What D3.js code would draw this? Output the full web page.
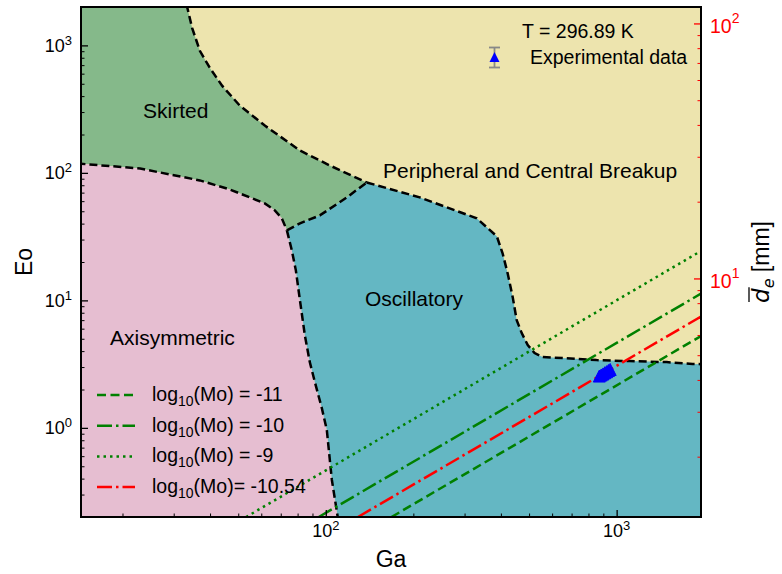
<!DOCTYPE html>
<html>
<head>
<meta charset="utf-8">
<script src="https://cdn.jsdelivr.net/npm/d3@7"></script>
<style>
    body { margin: 0; background: #fff; }
    text { font-family: "Liberation Sans", Arial, sans-serif; }
</style>
</head>
<body>
<div class="regime-map-container"></div>
<script>
// Data, points are [Ga, Eo]

const gaRange = [14.4, 1950]
const eoRange = [0.2, 2000]
const deRange = [1.16, 116]   // mm, right axis

const gaMajors = [100, 1000]
const eoMajors = [1, 10, 100, 1000]
const deMajors = [10, 100]

const skirtedAxisym = [[14, 118.5], [23.0, 108.2], [36.9, 87.3], [46.8, 74.1], [54.8, 64.2], [61.7, 57.6], [66.8, 50.8], [70.6, 44.0], [73.5, 35.4]]
const skirtedBreakup = [[33.2, 2100], [34.7, 1373], [36.9, 907], [39.9, 668], [44.0, 483], [50.6, 337], [61.7, 235], [81.5, 149.7], [103.2, 114.3], [138.3, 84.1]]
const skirtedOscill = [[73.5, 35.4], [81.5, 40.2], [95.4, 46.4], [118.1, 64.2], [138.3, 84.1]]
const oscillBreakup = [[138.3, 84.1], [210.4, 64.2], [330.5, 44.0], [387.3, 31.8], [405.4, 23.4], [421.9, 16.3], [439.2, 10.6], [453.3, 7.0], [471.7, 5.54], [494.7, 4.46], [522.4, 3.86], [556.8, 3.59], [651.9, 3.53], [853, 3.40], [1108, 3.34], [1486, 3.28], [1825, 3.17], [2100, 3.15]]
const axisymOscill = [[73.5, 35.4], [76.4, 24.7], [78.9, 17.2], [81.5, 10.0], [84.7, 5.34], [88.1, 3.28], [91.7, 2.29], [96.9, 1.43], [100.8, 0.965], [104.9, 0.392], [109.9, 0.2], [111, 0.18]]

const regionNames = ['Skirted', 'Axisymmetric', 'Oscillatory', 'Peripheral and Central Breakup']

// constant Morton number lines, two end points each
const moValues = ['-11', '-10', '-9', '-10.54']
const moLabelTails = ['(Mo) = -11', '(Mo) = -10', '(Mo) = -9', '(Mo)= -10.54']
const moLineEnds = [
    [[168.2, 0.2], [1950, 5.25]],
    [[94.6, 0.2], [1950, 11.3]],
    [[53.2, 0.2], [1950, 24.4]],
    [[129, 0.2], [1950, 7.47]]
]

const expGa = [872, 885, 898, 911, 924, 937, 950]
const expEo = [2.55, 2.60, 2.65, 2.71, 2.76, 2.82, 2.87]
const temperatureLabel = 'T = 296.89 K'

// Styles

const regionColors = ['#85b98a', '#e6bed1', '#64b7c3', '#ede4ae']
const moStyles = [
    {color: '#008000', dash: '9,4.5'},
    {color: '#008000', dash: '15,4,2.5,4'},
    {color: '#008000', dash: '2.5,4'},
    {color: '#ff0000', dash: '15,4,2.5,4'}
]

// Dimensions

let map_dimensions = {
    width: 782,
    height: 574,
    margin: {top: 7, bottom: 57, left: 81, right: 81}
}

const svg = d3.select('.regime-map-container')
    .append('svg')
    .attr('width', map_dimensions.width)
    .attr('height', map_dimensions.height)

const plotW = map_dimensions.width - map_dimensions.margin.left - map_dimensions.margin.right
const plotH = map_dimensions.height - map_dimensions.margin.top - map_dimensions.margin.bottom

const container = svg.append('g')
    .attr('transform', `translate(${map_dimensions.margin.left},${map_dimensions.margin.top})`)

const xScale = d3.scaleLog().domain(gaRange).range([0, plotW])
const yScale = d3.scaleLog().domain(eoRange).range([plotH, 0])
const dScale = d3.scaleLog().domain(deRange).range([plotH, 0])

svg.append('defs').append('clipPath').attr('id', 'plot-clip')
    .append('rect').attr('width', plotW).attr('height', plotH)

const plot = container.append('g').attr('clip-path', 'url(#plot-clip)')

const line = d3.line().x(d => xScale(d[0])).y(d => yScale(d[1]))

// Regions
const skirtedPoly = skirtedAxisym
    .concat(skirtedOscill.slice(1))
    .concat(skirtedBreakup.slice().reverse().slice(1))
    .concat([[14, 2100]])
const axisymPoly = skirtedAxisym
    .concat(axisymOscill.slice(1))
    .concat([[14, 0.18]])
const oscillPoly = skirtedOscill
    .concat(oscillBreakup.slice(1))
    .concat([[2100, 0.18]])
    .concat(axisymOscill.slice().reverse())

plot.append('rect')
    .attr('width', plotW).attr('height', plotH)
    .attr('fill', regionColors[3])

plot.selectAll('.region')
    .data([skirtedPoly, axisymPoly, oscillPoly])
    .join('path')
    .attr('class', 'region')
    .attr('d', d => line(d) + 'Z')
    .attr('fill', (d, i) => regionColors[i])

plot.selectAll('.boundary')
    .data([skirtedAxisym, skirtedBreakup, skirtedOscill, oscillBreakup, axisymOscill])
    .join('path')
    .attr('class', 'boundary')
    .attr('d', line)
    .attr('fill', 'none')
    .attr('stroke', '#000')
    .attr('stroke-width', 2.5)
    .attr('stroke-dasharray', '8,4')

// Mo lines
plot.selectAll('.mo-line')
    .data(moLineEnds)
    .join('path')
    .attr('class', 'mo-line')
    .attr('d', line)
    .attr('fill', 'none')
    .attr('stroke', (d, i) => moStyles[i].color)
    .attr('stroke-width', 2.5)
    .attr('stroke-dasharray', (d, i) => moStyles[i].dash)

// experimental points
const tri = s => `M0,${-s / 2}L${s / 2},${s / 2}L${-s / 2},${s / 2}Z`
plot.selectAll('.exp')
    .data(expGa)
    .join('path')
    .attr('class', 'exp')
    .attr('transform', (d, i) => `translate(${xScale(d)},${yScale(expEo[i])})`)
    .attr('d', tri(12))
    .attr('fill', '#0000ff')
    .attr('stroke', '#0000ff')
    .attr('stroke-width', 1)

// Region labels
const regionLabelPos = [[62, 111], [29, 338], [284, 299], [302, 171]]
container.selectAll('.region-label')
    .data(regionNames)
    .join('text')
    .attr('class', 'region-label')
    .attr('x', (d, i) => regionLabelPos[i][0])
    .attr('y', (d, i) => regionLabelPos[i][1])
    .attr('font-size', '21px')
    .text(d => d)

// Ticks
function drawTicks(scale, axisFn, transform, majors, color) {
    const minors = scale.ticks().filter(v => !majors.includes(v))
    container.append('g')
        .attr('transform', transform)
        .call(axisFn(scale).tickValues(minors).tickSize(-3.5).tickFormat(''))
        .call(g => g.select('.domain').remove())
        .selectAll('line').attr('stroke', color).attr('stroke-width', 1)
    container.append('g')
        .attr('transform', transform)
        .call(axisFn(scale).tickValues(majors).tickSize(-7).tickFormat(''))
        .call(g => g.select('.domain').remove())
        .selectAll('line').attr('stroke', color).attr('stroke-width', 1.3)
}

drawTicks(xScale, d3.axisBottom, `translate(0,${plotH})`, gaMajors, '#000')
drawTicks(yScale, d3.axisLeft, 'translate(0,0)', eoMajors, '#000')
drawTicks(dScale, d3.axisRight, `translate(${plotW},0)`, deMajors, '#ff0000')

function powLabel(sel, supSize, supDy) {
    sel.append('tspan').text('10')
    sel.append('tspan').attr('dy', supDy).attr('font-size', supSize).text(d => Math.round(Math.log10(d)))
}

container.selectAll('.x-label')
    .data(gaMajors)
    .join('text')
    .attr('class', 'x-label')
    .attr('x', d => xScale(d))
    .attr('y', plotH + 20)
    .attr('text-anchor', 'middle')
    .attr('font-family', 'DejaVu Sans')
    .attr('font-size', '18px')
    .call(powLabel, '13px', -7)

container.selectAll('.y-label')
    .data(eoMajors)
    .join('text')
    .attr('class', 'y-label')
    .attr('x', -9)
    .attr('y', d => yScale(d) + 6.5)
    .attr('text-anchor', 'end')
    .attr('font-family', 'DejaVu Sans')
    .attr('font-size', '18px')
    .call(powLabel, '13px', -7)

container.selectAll('.d-label')
    .data(deMajors)
    .join('text')
    .attr('class', 'd-label')
    .attr('x', plotW + 9)
    .attr('y', d => dScale(d) + 10)
    .attr('fill', '#ff0000')
    .attr('font-family', 'DejaVu Sans')
    .attr('font-size', '19.5px')
    .call(powLabel, '14px', -10)

// Frame
container.append('rect')
    .attr('width', plotW).attr('height', plotH)
    .attr('fill', 'none')
    .attr('stroke', '#000')
    .attr('stroke-width', 2)

// Axis titles
container.append('text')
    .attr('x', plotW / 2)
    .attr('y', plotH + 50)
    .attr('text-anchor', 'middle')
    .attr('font-size', '23px')
    .text('Ga')

container.append('text')
    .attr('transform', `translate(-49,${plotH / 2}) rotate(-90)`)
    .attr('text-anchor', 'middle')
    .attr('font-size', '23px')
    .text('Eo')

const rightTitle = container.append('g')
    .attr('transform', `translate(${plotW + 68},${plotH / 2}) rotate(-90)`)
const rightText = rightTitle.append('text')
    .attr('text-anchor', 'middle')
    .attr('font-size', '23px')
rightText.append('tspan').attr('font-family', 'DejaVu Sans').attr('font-style', 'italic').text('d')
rightText.append('tspan').attr('font-family', 'DejaVu Sans').attr('font-style', 'italic')
    .attr('font-size', '16px').attr('dy', 5).text('e')
rightText.append('tspan').attr('dy', -5).text(' [mm]')
const dExt = rightText.node().getExtentOfChar(0)
rightTitle.append('line')
    .attr('x1', dExt.x + 1).attr('x2', dExt.x + dExt.width + 1)
    .attr('y1', -20).attr('y2', -20)
    .attr('stroke', '#000').attr('stroke-width', 1.3)

// Top right legend
container.append('text')
    .attr('x', 441).attr('y', 31)
    .attr('font-size', '19.5px')
    .text(temperatureLabel)

const expLegend = container.append('g').attr('transform', 'translate(413.5,50)')
expLegend.append('line').attr('y1', -9.5).attr('y2', 10.5).attr('stroke', '#888').attr('stroke-width', 1.8)
expLegend.selectAll('.cap').data([-9.5, 10.5]).join('line')
    .attr('x1', -5.5).attr('x2', 5.5).attr('y1', d => d).attr('y2', d => d)
    .attr('stroke', '#888').attr('stroke-width', 1.8)
expLegend.append('path').attr('d', tri(10)).attr('fill', '#0000ff')
container.append('text')
    .attr('x', 449).attr('y', 57)
    .attr('font-size', '19.5px')
    .text('Experimental data')

// Mo legend
const moLegend = container.selectAll('.mo-legend')
    .data(moValues)
    .join('g')
    .attr('class', 'mo-legend')
    .attr('transform', (d, i) => `translate(16,${388 + i * 30.7})`)

moLegend.append('line')
    .attr('x1', 0).attr('x2', 38)
    .attr('stroke', (d, i) => moStyles[i].color)
    .attr('stroke-width', 2.5)
    .attr('stroke-dasharray', (d, i) => moStyles[i].dash)

const moText = moLegend.append('text')
    .attr('x', 55).attr('y', 6)
    .attr('font-size', '19.5px')
moText.append('tspan').text('log')
moText.append('tspan').attr('dy', 5).attr('font-size', '14px').text('10')
moText.append('tspan').attr('dy', -5).text((d, i) => moLabelTails[i])
</script>
</body>
</html>
